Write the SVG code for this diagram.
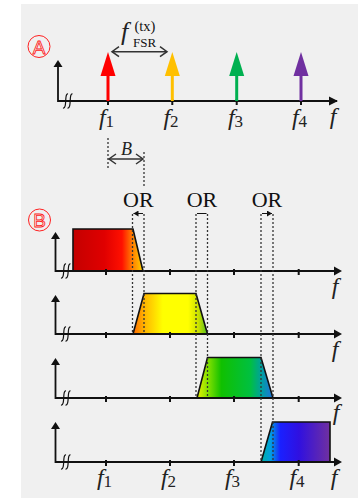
<svg xmlns="http://www.w3.org/2000/svg" width="358" height="498" viewBox="0 0 358 498">
<style>
.ax{stroke:#111;stroke-width:1.8;fill:none}
.tk{stroke:#111;stroke-width:2}
.brk{stroke:#111;stroke-width:1.2;fill:none}
.dot{stroke:#333;stroke-width:1.3;stroke-dasharray:2 2;fill:none}
.dim{stroke:#333;stroke-width:1.5;fill:none}
.band{stroke:#111;stroke-width:1.6;stroke-linejoin:miter}
.lbl{font-family:"Liberation Serif","Times New Roman",serif;font-style:italic;font-size:24px;fill:#222}
.sub{font-style:normal;font-size:17px}
.or{font-family:"Liberation Serif","Times New Roman",serif;font-size:22px;fill:#111}
.sm{font-family:"Liberation Serif","Times New Roman",serif;font-size:13px;fill:#111}
.circ{fill:none;stroke:#ff2020;stroke-width:1}
.cl{font-family:"Liberation Sans",Arial,sans-serif;font-size:19px;fill:none;stroke:#ff2020;stroke-width:0.8}
</style>
<defs>
<marker id="ah" markerWidth="10" markerHeight="10" refX="8" refY="5" orient="auto" markerUnits="userSpaceOnUse"><path d="M0,0.5 L9,5 L0,9.5 Z" fill="#111"/></marker>
<marker id="ch" markerWidth="10" markerHeight="12" refX="8" refY="6" orient="auto-start-reverse" markerUnits="userSpaceOnUse"><path d="M1,1 L8,6 L1,11" fill="none" stroke="#333" stroke-width="1.5"/></marker>
<marker id="smh" markerWidth="6" markerHeight="6" refX="5" refY="3" orient="auto-start-reverse" markerUnits="userSpaceOnUse"><path d="M0,0 L5,3 L0,6 Z" fill="#111"/></marker>
<linearGradient id="g1" x1="0" y1="0" x2="1" y2="0">
<stop offset="0" stop-color="#c40000"/><stop offset="0.45" stop-color="#e00000"/><stop offset="0.7" stop-color="#ff1000"/><stop offset="0.84" stop-color="#ff7a00"/><stop offset="1" stop-color="#ffd000"/>
</linearGradient>
<linearGradient id="g2" x1="0" y1="0" x2="1" y2="0">
<stop offset="0" stop-color="#ff6a00"/><stop offset="0.15" stop-color="#ffb400"/><stop offset="0.4" stop-color="#ffff00"/><stop offset="0.74" stop-color="#ffff00"/><stop offset="0.88" stop-color="#c8e000"/><stop offset="1" stop-color="#50c020"/>
</linearGradient>
<linearGradient id="g3" x1="0" y1="0" x2="1" y2="0">
<stop offset="0" stop-color="#e8f000"/><stop offset="0.15" stop-color="#80e000"/><stop offset="0.32" stop-color="#10c000"/><stop offset="0.7" stop-color="#00c040"/><stop offset="0.85" stop-color="#00a0a0"/><stop offset="1" stop-color="#2070e0"/>
</linearGradient>
<linearGradient id="g4" x1="0" y1="0" x2="1" y2="0">
<stop offset="0" stop-color="#00b0a0"/><stop offset="0.14" stop-color="#00a0e0"/><stop offset="0.28" stop-color="#1a20ff"/><stop offset="0.55" stop-color="#3010e0"/><stop offset="1" stop-color="#7030a0"/>
</linearGradient>
<path id="brk" class="brk" d="M4,-7 C0,-8 3.5,8 -1,7 M8.5,-7 C4.5,-8 8,8 3.5,7"/>
</defs>
<rect x="21" y="4" width="337" height="494" fill="#f0f0f0"/>

<g id="sectionA">
<g id="labelA"><circle class="circ" cx="39" cy="46.5" r="11"/><text class="cl" x="39" y="53.5" text-anchor="middle">A</text></g>
<g id="axisA">
<path class="ax" d="M58,67 V101 H337" marker-end="url(#ah)"/>
<path d="M58,60 L62.5,67 L53.5,67 Z" fill="#111"/>
<use href="#brk" x="64" y="101"/>
<path class="tk" d="M108,99 V105 M172.3,99 V105 M236.7,99 V105 M301,99 V105"/>
<text class="lbl" x="333" y="124" text-anchor="middle">f</text>
</g>
<g id="carrier1"><path d="M108,101 V74" stroke="#ff0000" stroke-width="3"/><path d="M108,52 L115.5,76 L100.5,76 Z" fill="#ff0000"/><text class="lbl" x="106.5" y="125" text-anchor="middle">f<tspan class="sub" dy="2">1</tspan></text></g>
<g id="carrier2"><path d="M172.3,101 V74" stroke="#ffc000" stroke-width="3"/><path d="M172.3,52 L179.8,76 L164.8,76 Z" fill="#ffc000"/><text class="lbl" x="171" y="125" text-anchor="middle">f<tspan class="sub" dy="2">2</tspan></text></g>
<g id="carrier3"><path d="M236.7,101 V74" stroke="#00b050" stroke-width="3"/><path d="M236.7,52 L244.2,76 L229.2,76 Z" fill="#00b050"/><text class="lbl" x="235.5" y="125" text-anchor="middle">f<tspan class="sub" dy="2">3</tspan></text></g>
<g id="carrier4"><path d="M301,101 V74" stroke="#7030a0" stroke-width="3"/><path d="M301,52 L308.5,76 L293.5,76 Z" fill="#7030a0"/><text class="lbl" x="299.5" y="125" text-anchor="middle">f<tspan class="sub" dy="2">4</tspan></text></g>
<g id="fsr">
<path class="dim" d="M112,51.7 H167" marker-start="url(#ch)" marker-end="url(#ch)"/>
<text class="lbl" x="121" y="40" style="font-size:26px">f</text>
<text class="sm" x="134.5" y="31" style="font-size:14.5px">(tx)</text>
<text class="sm" x="133" y="47">FSR</text>
</g>
</g>

<g id="sectionB">
<g id="labelB"><circle class="circ" cx="39.5" cy="220" r="11"/><text class="cl" x="39.5" y="227" text-anchor="middle">B</text></g>
<g id="bandwidth">
<path class="dot" d="M108,138 V169 M144,152 V186"/>
<path class="dim" d="M109,159 H143" marker-start="url(#ch)" marker-end="url(#ch)"/>
<text class="lbl" x="126.5" y="155" text-anchor="middle" style="font-size:18px">B</text>
</g>
<g id="or1"><text class="or" x="138.3" y="206.5" text-anchor="middle">OR</text></g>
<g id="or2"><text class="or" x="202" y="206.5" text-anchor="middle">OR</text></g>
<g id="or3"><text class="or" x="267" y="206.5" text-anchor="middle">OR</text></g>

<g id="band1"><path class="band" d="M73,271 V229 H133 L143,271 Z" fill="url(#g1)"/></g>
<g id="band2"><path class="band" d="M133,334 L144,293.5 H196 L207.5,334 Z" fill="url(#g2)"/></g>
<g id="band3"><path class="band" d="M197,398 L207.5,357.5 H261 L273,398 Z" fill="url(#g3)"/></g>
<g id="band4"><path class="band" d="M261,462 L272.5,422 H330 V462 Z" fill="url(#g4)"/></g>

<g id="axesB">
<path class="ax" d="M55.5,239 V271 H335"/>
<path class="ax" d="M55.5,302 V334 H335"/>
<path class="ax" d="M55.5,365 V398 H335"/>
<path class="ax" d="M55.5,429 V462 H335"/>
<path fill="#111" d="M55.5,232 L60,239 L51,239 Z M55.5,295 L60,302 L51,302 Z M55.5,358 L60,365 L51,365 Z M55.5,422 L60,429 L51,429 Z"/>
<path fill="#111" d="M334,266.5 L342,271 L334,275.5 Z M334,329.5 L342,334 L334,338.5 Z M334,393.5 L342,398 L334,402.5 Z M334,457.5 L342,462 L334,466.5 Z"/>
<use href="#brk" x="62" y="271"/>
<use href="#brk" x="62" y="334"/>
<use href="#brk" x="62" y="398"/>
<use href="#brk" x="62" y="462"/>
<path class="tk" d="M106,269 V275 M170,269 V275 M234,269 V275 M298.7,269 V275 M106,332 V338 M170,332 V338 M234,332 V338 M298.7,332 V338 M106,396 V402 M170,396 V402 M234,396 V402 M298.7,396 V402 M106,460 V466 M170,460 V466 M234,460 V466 M298.7,460 V466"/>
<text class="lbl" x="335" y="294" text-anchor="middle">f</text>
<text class="lbl" x="335" y="357" text-anchor="middle">f</text>
<text class="lbl" x="336" y="420" text-anchor="middle">f</text>
<text class="lbl" x="334" y="485" text-anchor="middle">f</text>
<text class="lbl" x="104.5" y="485" text-anchor="middle">f<tspan class="sub" dy="2">1</tspan></text>
<text class="lbl" x="168.5" y="485" text-anchor="middle">f<tspan class="sub" dy="2">2</tspan></text>
<text class="lbl" x="232.5" y="485" text-anchor="middle">f<tspan class="sub" dy="2">3</tspan></text>
<text class="lbl" x="297" y="485" text-anchor="middle">f<tspan class="sub" dy="2">4</tspan></text>
</g>

<g id="connectors">
<path class="dot" d="M132.5,214 V334 M144,214 V334 M196,214 V398 M207.5,214 V398 M261,214 V462 M273,214 V462"/>
<path stroke="#111" stroke-width="1.2" d="M133.5,213.5 H143 M197,213.5 H206.5 M262,213.5 H272" marker-start="url(#smh)" marker-end="url(#smh)"/>
</g>
</g>
</svg>
